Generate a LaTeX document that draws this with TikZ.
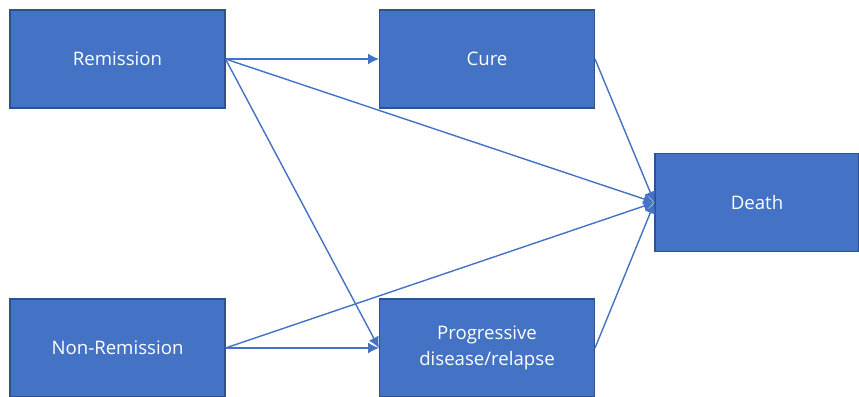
\documentclass[tikz,border=0pt]{standalone}
\usepackage{fontspec}
\setmainfont{Open Sans}
\usetikzlibrary{positioning,arrows.meta}
\definecolor{boxblue}{HTML}{4472C4}
\definecolor{edgeblue}{HTML}{2F528F}
\begin{document}
\begin{tikzpicture}[
      x=0.02cm, y=-0.02cm,
      font=\fontsize{10.6pt}{14.5pt}\selectfont,
      box/.style={draw=edgeblue, fill=boxblue, line width=0.6pt, text=white, minimum width=4.3cm, minimum height=1.96cm, align=center, inner sep=0pt},
      arr/.style={draw=boxblue, line width=0.8pt, -{Latex[length=2.2mm, width=2.2mm]}}]
    \useasboundingbox (0,0) rectangle (859,396);
    \node[box] (rem) at (117.5,59) {Remission};
    \node[box] (cure) at (487,59) {Cure};
    \node[box, minimum width=4.08cm] (death) at (757,202.5) {Death};
    \node[box] (nonrem) at (117.5,348) {Non-Remission};
    \node[box] (prog) at (487,348) {Progressive\\disease/relapse};
    \draw[arr] (rem.east) -- (cure.west);
    \draw[arr] (rem.east) -- (death.west);
    \draw[arr] (rem.east) -- (prog.west);
    \draw[arr] (cure.east) -- (death.west);
    \draw[arr] (nonrem.east) -- (prog.west);
    \draw[arr] (nonrem.east) -- (death.west);
    \draw[arr] (prog.east) -- (death.west);
  \end{tikzpicture}
\end{document}
